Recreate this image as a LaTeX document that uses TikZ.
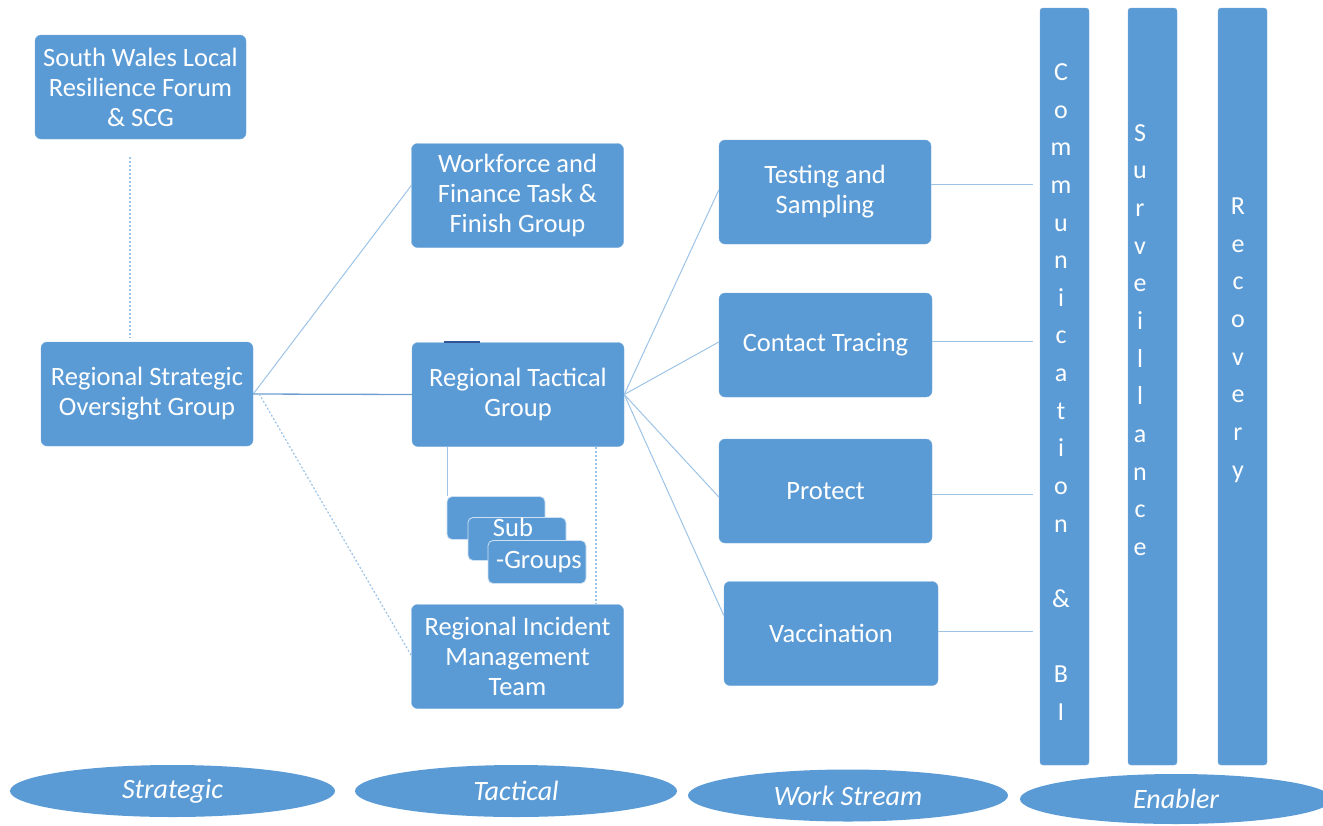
\documentclass[tikz,border=0pt]{standalone}
\usepackage{fontspec}
\setmainfont{Carlito}
\usetikzlibrary{shapes.geometric}
\definecolor{boxblue}{HTML}{5B9BD5}
\definecolor{linkblue}{HTML}{9DC3E6}
\definecolor{darklink}{HTML}{6F9FCF}
\definecolor{markblue}{HTML}{2F5597}
\begin{document}
\begin{tikzpicture}[x=1pt,y=-1pt,
  box/.style={fill=boxblue, draw=boxblue!85!white, rounded corners=6pt, text=white, align=center,
    font=\fontsize{26.5}{30}\selectfont, inner sep=0pt, minimum width=212pt, minimum height=104pt},
  subbox/.style={fill=boxblue, draw=white!70!boxblue, line width=0.8pt, rounded corners=5pt, inner sep=0pt,
    minimum width=98pt, minimum height=43pt},
  bar/.style={fill=boxblue, draw=boxblue!85!white, rounded corners=3pt, inner sep=0pt,
    minimum width=49pt, minimum height=757pt},
  bartext/.style={text=white, align=center, font=\fontsize{26}{37.65}\selectfont, inner sep=0pt},
  level/.style={ellipse, fill=boxblue, inner sep=0pt, minimum width=325pt, minimum height=52pt,
    text=white, font=\fontsize{28}{30}\selectfont\itshape},
  sublabel/.style={text=white, font=\fontsize{26.5}{30}\selectfont, inner sep=0pt},
  link/.style={draw=linkblue, line width=1pt},
  dotlink/.style={draw=linkblue, line width=1.2pt, dash pattern=on 2pt off 2pt}
]
\useasboundingbox (0,0) rectangle (1323,825);

% strategic column
\node[box, minimum width=211pt] (swl) at (140.5,87) {South Wales Local\\Resilience Forum\\\& SCG};
\node[box] (rsog) at (147,394) {Regional Strategic\\Oversight Group};

% tactical column
\node[box] (wf) at (517.5,195.5) {Workforce and\\Finance Task \&\\Finish Group};
\node[box] (rtg) at (518,394.5) {Regional Tactical\\Group};
\node[box] (rimt) at (517.5,656.5) {Regional Incident\\Management\\Team};
\draw[markblue, line width=1.5pt] (444,342) -- (480,342);

% sub-groups
\node[subbox] (sg1) at (496,518) {};
\node[subbox] (sg2) at (517,539) {};
\node[subbox] (sg3) at (537,562) {};
\node[sublabel] (sgt1) at (513,527) {Sub};
\node[sublabel] (sgt2) at (539,562) {-Groups};

% work streams
\node[box] (ts) at (825,192) {Testing and\\Sampling};
\node[box, minimum width=213pt] (ct) at (825.5,345) {Contact Tracing};
\node[box, minimum width=213pt] (pr) at (825.5,491) {Protect};
\node[box, minimum width=214pt] (va) at (831,633.5) {Vaccination};

% enablers
\node[bar] (comm) at (1064.5,386.5) {};
\node[bar] (surv) at (1152.5,386.5) {};
\node[bar] (rec) at (1242.5,386.5) {};
\node[bartext] (commt) at (1061,392) {C\\o\\m\\m\\u\\n\\i\\c\\a\\t\\i\\o\\n\\~\\\&\\~\\B\\I};
\node[bartext] (survt) at (1140,340) {S\\u\\r\\v\\e\\i\\l\\l\\a\\n\\c\\e};
\node[bartext] (rect) at (1238,340) {R\\e\\c\\o\\v\\e\\r\\y};

% level ellipses
\node[level] (lstr) at (172.5,791) {Strategic};
\node[level, minimum width=322pt] (ltac) at (516,791) {Tactical};
\node[level, minimum width=320pt] (lws) at (848,795.5) {Work Stream};
\node[level, minimum width=312pt, minimum height=50pt] (len) at (1176,799) {Enabler};

% connectors
\coordinate (xa) at (130,157);
\coordinate (xb) at (130,338);
\draw[dotlink] (xa) -- (xb);
\draw[link] (rsog.east) -- ([yshift=10pt]wf.west);
\draw[draw=darklink, line width=1.3pt] (rsog.east) -- (rtg.west);
\draw[dotlink] ([xshift=6pt]rsog.east) -- ([yshift=1pt]rimt.west);
\draw[link] ([xshift=1pt]sg1.north west |- rtg.south) -- ([xshift=1pt]sg1.north west);
\coordinate (dx) at (596,0);
\draw[dotlink] (dx |- rtg.south) -- (dx |- rimt.north);

\draw[link] (rtg.east) -- ([yshift=2pt]ts.west);
\draw[link] (rtg.east) -- ([yshift=3pt]ct.west);
\draw[link] (rtg.east) -- ([yshift=-6pt]pr.west);
\draw[link] (rtg.east) -- ([yshift=18pt]va.west);

\coordinate (cg) at ([xshift=-7pt]comm.west);
\draw[link] ([yshift=8pt]ts.east) -- ([yshift=8pt]ts.east -| cg);
\draw[link] ([yshift=4pt]ct.east) -- ([yshift=4pt]ct.east -| cg);
\draw[link] ([yshift=-3pt]pr.east) -- ([yshift=-3pt]pr.east -| cg);
\draw[link] ([yshift=2pt]va.east) -- ([yshift=2pt]va.east -| cg);
\end{tikzpicture}
\end{document}
